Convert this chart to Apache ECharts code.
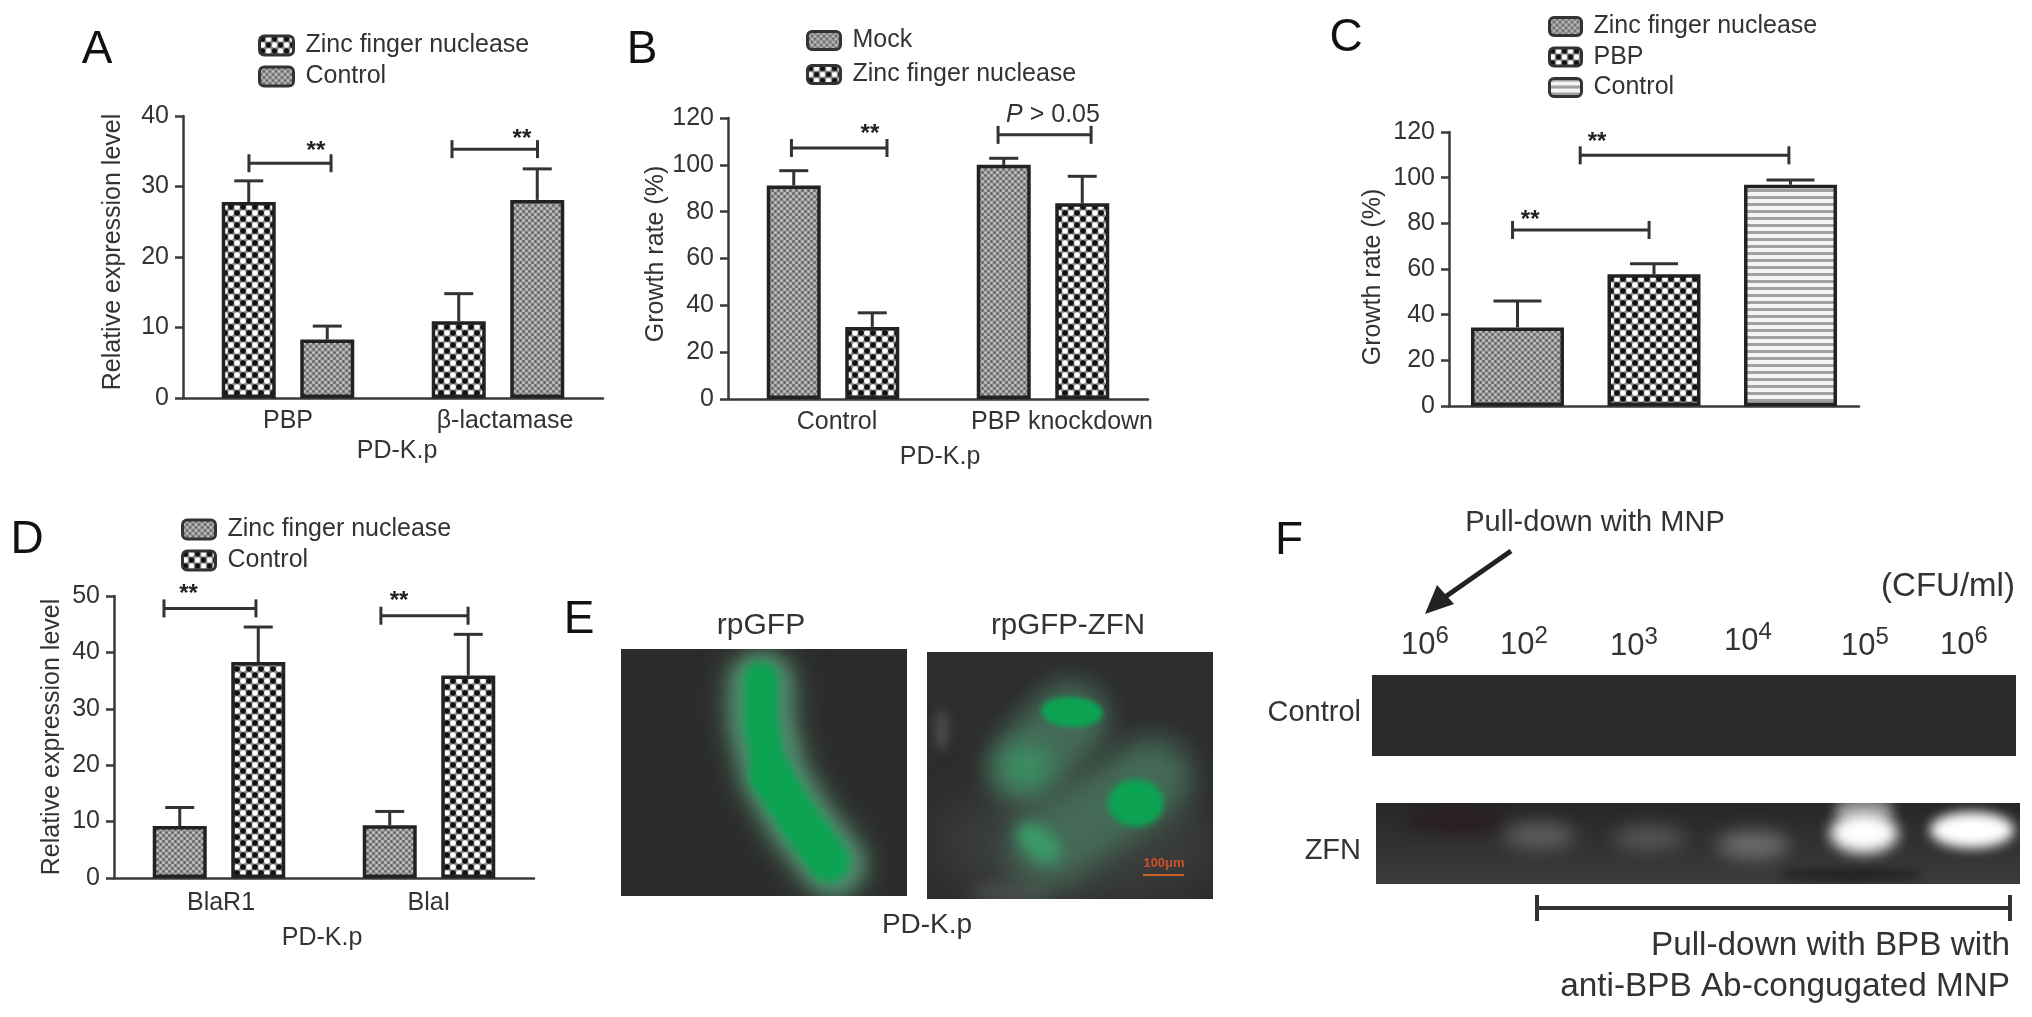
<!DOCTYPE html>
<html><head><meta charset="utf-8">
<style>html,body{margin:0;padding:0;background:#fff}#c{width:2032px;height:1017px;filter:blur(0.6px)}</style>
<script src="https://cdn.jsdelivr.net/npm/echarts@6/dist/echarts.min.js"></script>
</head><body><div id="c"></div>
<script>
// ---------- data ----------
const aCategories = ['PBP', 'β-lactamase'];
const aZinc = [27.8, 10.9];
const aZincUpper = [30.8, 14.8];
const aControl = [8.3, 28.1];
const aControlUpper = [10.2, 32.5];
const aBrackets = [[0.314, 0.705, 33.3, 0.633, 35.6], [1.281, 1.688, 35.3, 1.614, 37.3]];

const bCategories = ['Control', 'PBP knockdown'];
const bMock = [91.2, 100];
const bMockUpper = [97.5, 102.8];
const bZinc = [30.8, 83.6];
const bZincUpper = [36.8, 95.1];
const bBrackets = [[0.302, 0.757, 107.2, 0.676, 114.7], [1.286, 1.729, 112.8]];

const cCategories = [''];
const cZinc = [34.4];
const cZincUpper = [46];
const cPbp = [57.7];
const cPbpUpper = [62.3];
const cControl = [96.9];
const cControlUpper = [99];
const cBrackets = [[0.155, 0.488, 77.1, 0.198, 83], [0.320, 0.829, 109.8, 0.361, 117.4]];

const dCategories = ['BlaR1', 'BlaI'];
const dZinc = [9.2, 9.35];
const dZincUpper = [12.5, 11.8];
const dControl = [38.3, 35.9];
const dControlUpper = [44.5, 43.2];
const dBrackets = [[0.238, 0.676, 47.8, 0.355, 51], [1.271, 1.686, 46.5, 1.357, 49.7]];

const gelLabels = ['6', '2', '3', '4', '5', '6'];

// ---------- patterns ----------
const FF = '"Liberation Sans", Arial, sans-serif', TXT = '#333', LINE = '#3a3a3a';
function tile(w, h, draw) { const c = document.createElement('canvas'); c.width = w; c.height = h; draw(c.getContext('2d')); return c; }
function dot(g, x, y, r, col) { g.fillStyle = col; g.beginPath(); g.arc(x, y, r, 0, 7); g.fill(); }
const checker = { image: tile(12, 12, g => {
  g.fillStyle = '#8a8a8a'; g.fillRect(0, 0, 12, 12);
  dot(g, 3, 3, 2.8, '#111'); dot(g, 9, 9, 2.8, '#111');
  dot(g, 9, 3, 2.8, '#fff'); dot(g, 3, 9, 2.8, '#fff');
}), repeat: 'repeat' };
const fine = { image: tile(6, 6, g => {
  g.fillStyle = '#9c9c9c'; g.fillRect(0, 0, 6, 6);
  dot(g, 1.5, 1.5, 1.2, '#5c5c5c'); dot(g, 4.5, 4.5, 1.2, '#5c5c5c');
  dot(g, 4.5, 1.5, 1.1, '#cfcfcf'); dot(g, 1.5, 4.5, 1.1, '#cfcfcf');
}), repeat: 'repeat' };
const stripes = { image: tile(8, 7, g => {
  g.fillStyle = '#f4f4f4'; g.fillRect(0, 0, 8, 7);
  g.fillStyle = '#a0a0a0'; g.fillRect(0, 0, 8, 3);
}), repeat: 'repeat' };

// ---------- panels ----------
const panels = [
  { id: 'A', grid: { left: 183, top: 116, width: 420, height: 282 }, cats: aCategories, max: 40, step: 10,
    yName: 'Relative expression level', yGap: 57, yPad: [0, 0, 0, 10], xGap: 41, xPad: [0, 0, 0, 8], margin: 11,
    barW: 54, gap: 0.454, cap: 14.5, brackets: aBrackets,
    labelPad: [0, 14],
    bars: [['Zinc finger nuclease', aZinc, aZincUpper, checker], ['Control', aControl, aControlUpper, fine]],
    legend: { left: 258, top: 33, h: 19, w: 34, gap: 6 } },
  { id: 'B', grid: { left: 728, top: 118, width: 420, height: 281 }, cats: bCategories, max: 120, step: 20,
    yName: 'Growth rate (%)', yGap: 59, yPad: [0, 0, 0, 9], xGap: 46, xPad: [0, 0, 0, 4], margin: 11,
    barW: 54, gap: 0.454, cap: 14.5, brackets: bBrackets,
    labelPad: [8, 38],
    bars: [['Mock', bMock, bMockUpper, fine], ['Zinc finger nuclease', bZinc, bZincUpper, checker]],
    legend: { left: 806, top: 28, h: 18, w: 33, gap: 9 } },
  { id: 'C', grid: { left: 1449, top: 132, width: 410, height: 274 }, cats: cCategories, max: 120, step: 20,
    yName: 'Growth rate (%)', yGap: 63, yPad: [0, 16, 0, 0], margin: 11,
    barW: 93, gap: 0.468, cap: 24, brackets: cBrackets,
    labelPad: [0],
    bars: [['Zinc finger nuclease', cZinc, cZincUpper, fine], ['PBP', cPbp, cPbpUpper, checker], ['Control', cControl, cControlUpper, stripes]],
    legend: { left: 1548, top: 14, h: 18, w: 32, gap: 5.5 } },
  { id: 'D', grid: { left: 114, top: 596, width: 420, height: 282 }, cats: dCategories, max: 50, step: 10,
    yName: 'Relative expression level', yGap: 49, yPad: [0, 0, 0, 0], xGap: 48, xPad: [0, 4, 0, 0], margin: 13,
    barW: 54, gap: 0.454, cap: 14.5, brackets: dBrackets,
    labelPad: [4, 0],
    bars: [['Zinc finger nuclease', dZinc, dZincUpper, fine], ['Control', dControl, dControlUpper, checker]],
    legend: { left: 181, top: 517, h: 19, w: 33, gap: 6 } }
];

function whiskerItem(off, cap) {
  return function (params, api) {
    const base = api.coord([api.value(0), api.value(1)]);
    const top = api.coord([api.value(0), api.value(2)]);
    const x = base[0] + off, st = { stroke: '#333', lineWidth: 3, fill: null };
    return { type: 'group', children: [
      { type: 'line', shape: { x1: x, y1: base[1], x2: x, y2: top[1] }, style: st },
      { type: 'line', shape: { x1: x - cap, y1: top[1], x2: x + cap, y2: top[1] }, style: st }
    ] };
  };
}
function bracketItem(params, api) {
  const a = api.coord([api.value(0), api.value(2)]), b = api.coord([api.value(1), api.value(2)]);
  const st = { stroke: '#333', lineWidth: 3, fill: null }, h = 9;
  const kids = [
    { type: 'line', shape: { x1: a[0], y1: a[1], x2: b[0], y2: b[1] }, style: st },
    { type: 'line', shape: { x1: a[0], y1: a[1] - h, x2: a[0], y2: a[1] + h }, style: st },
    { type: 'line', shape: { x1: b[0], y1: b[1] - h, x2: b[0], y2: b[1] + h }, style: st }
  ];
  if (!isNaN(api.value(3))) {
    const s = api.coord([api.value(3), api.value(4)]);
    kids.push({ type: 'text', style: { x: s[0], y: s[1] + 4, text: '**', fontSize: 24, fontWeight: 'bold', fontFamily: FF, fill: '#222', align: 'center', verticalAlign: 'middle' } });
  }
  return { type: 'group', children: kids };
}

const option = { animation: false, backgroundColor: '#fff', grid: [], xAxis: [], yAxis: [], series: [], legend: [], graphic: [] };
panels.forEach((p, i) => {
  option.grid.push(Object.assign({ containLabel: false }, p.grid));
  const lineStyle = { color: LINE, width: 2.5 };
  option.xAxis.push({
    type: 'category', gridIndex: i,
    data: p.cats.map((c, k) => ({ value: c, textStyle: { padding: [0, 0, 0, p.labelPad[k] || 0] } })),
    axisLine: { lineStyle }, axisTick: { alignWithLabel: true, length: 8, lineStyle },
    axisLabel: { fontSize: 25, fontFamily: FF, color: TXT, margin: p.margin, interval: 0 },
    name: i === 2 ? '' : 'PD-K.p', nameLocation: 'middle', nameGap: p.xGap,
    nameTextStyle: { fontSize: 25, fontFamily: FF, color: TXT, padding: p.xPad }
  });
  option.xAxis.push({ type: 'value', gridIndex: i, min: 0, max: p.cats.length, show: false });
  option.yAxis.push({
    type: 'value', gridIndex: i, min: 0, max: p.max, interval: p.step,
    axisLine: { show: true, lineStyle }, axisTick: { show: true, length: 8, lineStyle }, splitLine: { show: false },
    axisLabel: { fontSize: 25, fontFamily: FF, color: TXT, margin: 14 },
    name: p.yName, nameLocation: 'middle', nameGap: p.yGap,
    nameTextStyle: { fontSize: 25, fontFamily: FF, color: TXT, padding: p.yPad }
  });
  const n = p.bars.length, ax = i * 2;
  p.bars.forEach((b, k) => {
    const full = p.id + '|' + b[0];
    option.series.push({
      type: 'bar', name: full, xAxisIndex: ax, yAxisIndex: i, data: b[1], barWidth: p.barW, barGap: (p.gap * 100) + '%',
      itemStyle: { color: b[3], borderColor: '#222', borderWidth: 3.5 }, silent: true, z: 2
    });
    const off = (k - (n - 1) / 2) * p.barW * (1 + p.gap);
    option.series.push({
      type: 'custom', name: full + ' error', xAxisIndex: ax, yAxisIndex: i, silent: true, z: 1,
      encode: { x: 0, y: [1, 2] }, renderItem: whiskerItem(off, p.cap),
      data: b[1].map((v, c) => [c, v, b[2][c]])
    });
  });
  option.series.push({
    type: 'custom', name: p.id + ' significance', xAxisIndex: ax + 1, yAxisIndex: i, silent: true, z: 3, clip: false,
    encode: { x: [0, 1], y: 2 }, renderItem: bracketItem,
    data: p.brackets.map(r => [r[0], r[1], r[2], r[3] === undefined ? NaN : r[3], r[4] === undefined ? NaN : r[4]])
  });
  option.legend.push({
    orient: 'vertical', left: p.legend.left, top: p.legend.top, padding: 0, selectedMode: false,
    itemWidth: p.legend.w, itemHeight: p.legend.h, itemGap: p.legend.gap,
    itemStyle: { borderColor: '#333', borderWidth: 3 },
    formatter: nm => nm.split('|')[1],
    textStyle: { fontSize: 25, fontFamily: FF, color: TXT, lineHeight: p.legend.h, padding: [0, 0, 0, 7] },
    data: p.bars.map(b => p.id + '|' + b[0])
  });
});

// ---------- panels E and F images ----------
function pic(w, h, bg, draw) {
  const c = document.createElement('canvas'); c.width = w; c.height = h;
  const g = c.getContext('2d'); g.fillStyle = bg; g.fillRect(0, 0, w, h); draw(g); return c;
}
function stroke(g, pts, width, col, blur) {
  g.filter = 'blur(' + blur + 'px)'; g.strokeStyle = col; g.lineWidth = width; g.lineCap = 'round'; g.lineJoin = 'round';
  g.beginPath(); pts.forEach((p, i) => i ? g.lineTo(p[0], p[1]) : g.moveTo(p[0], p[1])); g.stroke(); g.filter = 'none';
}
function blob(g, x, y, rx, ry, rot, col, blur) {
  g.filter = 'blur(' + blur + 'px)'; g.fillStyle = col; g.beginPath(); g.ellipse(x, y, rx, ry, rot, 0, 7); g.fill(); g.filter = 'none';
}
const rod = [[140, 35], [140, 74], [153, 127], [180, 174], [212, 215]];
const imgE1 = pic(286, 247, '#2b2b2b', g => {
  stroke(g, rod, 76, '#43604f', 14);
  stroke(g, rod, 60, '#4f8a6c', 8);
  stroke(g, [[140, 30], [140, 74], [150, 127]], 34, '#0ba352', 4);
  stroke(g, [[150, 127], [180, 174], [208, 212]], 42, '#0ba352', 4);
});
const imgE2 = pic(286, 247, '#2d2d2d', g => {
  blob(g, 150, 190, 140, 60, 0, '#3a3d3b', 20);
  blob(g, 15, 78, 8, 20, 0, '#484848', 5);
  blob(g, 85, 240, 40, 12, 0, '#484d4a', 8);
  stroke(g, [[143, 68], [99, 115]], 78, '#456a58', 13);
  blob(g, 99, 115, 26, 22, 0, '#3a8f62', 12);
  blob(g, 145, 60, 31, 15, 0.05, '#0ba352', 2.5);
  stroke(g, [[225, 125], [121, 195]], 80, '#456a58', 14);
  blob(g, 209, 151, 28, 24, 0, '#0ba352', 3);
  blob(g, 112, 191, 26, 15, 0.7, '#3a9a68', 7);
});
const imgGelC = pic(644, 81, '#2b2b2b', g => {});
const imgGelZ = pic(644, 81, '#363636', g => {
  const gr = g.createLinearGradient(0, 0, 0, 81); gr.addColorStop(0, '#262626'); gr.addColorStop(1, '#3c3c3c');
  g.fillStyle = gr; g.fillRect(0, 0, 644, 81);
  blob(g, 81, 17, 50, 15, 0, '#2a2022', 6);
  blob(g, 475, 72, 72, 7, 0, '#232323', 5);
  blob(g, 163, 33, 36, 13, 0, '#5e5e5e', 9);
  blob(g, 273, 35, 36, 12, 0, '#565656', 9);
  blob(g, 377, 42, 36, 14, 0, '#6c6c6c', 9);
  blob(g, 488, 7, 30, 14, 0, '#8a8a8a', 6);
  blob(g, 488, 30, 34, 20, 0, '#fff', 7);
  blob(g, 596, 27, 42, 18, 0, '#fff', 6);
});

function txt(x, y, text, size, extra) {
  return { type: 'text', z: 10, style: Object.assign({ x, y, text, fontSize: size, fontFamily: FF, fill: TXT, align: 'center', verticalAlign: 'middle' }, extra || {}) };
}
function img(c, x, y, w, h) { return { type: 'image', z: 5, style: { image: c, x, y, width: w, height: h } }; }
const g = option.graphic;
[['A', 97, 50], ['B', 642, 50], ['C', 1346, 38], ['D', 27, 540], ['E', 579, 620], ['F', 1289, 541]].forEach(l => g.push(txt(l[1], l[2], l[0], 46, { fill: '#111' })));
g.push(txt(1053, 115, '{i|P}{n| > 0.05}', 25, { rich: { i: { fontStyle: 'italic', fontSize: 25, fontFamily: FF, fill: TXT }, n: { fontSize: 25, fontFamily: FF, fill: TXT } } }));
g.push(img(imgE1, 621, 649, 286, 247), img(imgE2, 927, 652, 286, 247));
g.push(txt(761, 626, 'rpGFP', 30), txt(1068, 626, 'rpGFP-ZFN', 29.5), txt(927, 925, 'PD-K.p', 28));
g.push(txt(1164, 863, '100μm', 13, { fill: '#c8502a', fontWeight: 'bold' }));
g.push({ type: 'line', z: 10, shape: { x1: 1143, y1: 875, x2: 1184, y2: 875 }, style: { stroke: '#c8602a', lineWidth: 2 } });
g.push(img(imgGelC, 1372, 675, 644, 81), img(imgGelZ, 1376, 803, 644, 81));
g.push(txt(1595, 523, 'Pull-down with MNP', 29), txt(1948, 587, '(CFU/ml)', 33));
g.push({ type: 'line', z: 10, shape: { x1: 1511, y1: 551, x2: 1445, y2: 597 }, style: { stroke: '#222', lineWidth: 5 } });
g.push({ type: 'polygon', z: 10, shape: { points: [[1425, 614], [1437, 585], [1454, 604]] }, style: { fill: '#222' } });
[[1425, 645], [1524, 645], [1634, 646], [1748, 641], [1865, 646], [1964, 645]].forEach((q, i) =>
  g.push(txt(q[0], q[1], '{b|10}{s|' + gelLabels[i] + '}', 31, { rich: { b: { fontSize: 31, fontFamily: FF, fill: TXT, lineHeight: 42 }, s: { fontSize: 24, fontFamily: FF, fill: TXT, verticalAlign: 'top', lineHeight: 24 } } })));
g.push(txt(1361, 713, 'Control', 29, { align: 'right' }), txt(1361, 851, 'ZFN', 29, { align: 'right' }));
const bk = { stroke: '#333', lineWidth: 4 };
g.push({ type: 'line', z: 10, shape: { x1: 1537, y1: 908, x2: 2010, y2: 908 }, style: bk });
g.push({ type: 'line', z: 10, shape: { x1: 1537, y1: 895, x2: 1537, y2: 921 }, style: bk });
g.push({ type: 'line', z: 10, shape: { x1: 2010, y1: 895, x2: 2010, y2: 921 }, style: bk });
g.push(txt(2010, 946, 'Pull-down with BPB with', 33.3, { align: 'right' }), txt(2010, 987, 'anti-BPB Ab-congugated MNP', 33.3, { align: 'right' }));

const chart = echarts.init(document.getElementById('c'), null, { renderer: 'canvas', width: 2032, height: 1017 });
chart.setOption(option);
</script></body></html>
